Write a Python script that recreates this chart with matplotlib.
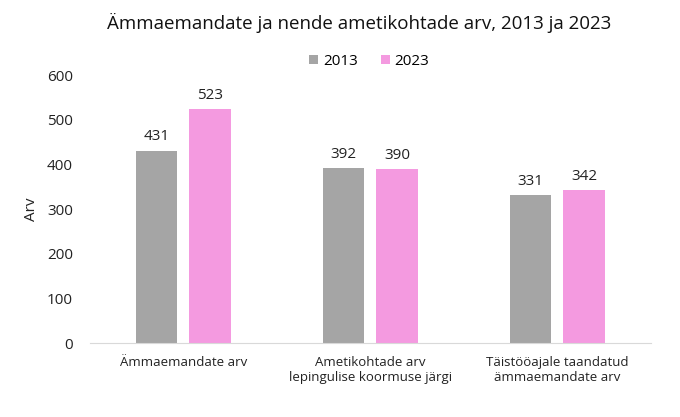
import matplotlib
matplotlib.use("Agg")
import matplotlib.pyplot as plt
import numpy as np

plt.rcParams['font.family'] = ['Open Sans', 'DejaVu Sans']

categories = ["Ämmaemandate arv", "Ametikohtade arv\nlepingulise koormuse järgi", "Täistööajale taandatud\nämmaemandate arv"]
years = ["2013", "2023"]
values_2013 = [431, 392, 331]
values_2023 = [523, 390, 342]
yticks = [0, 100, 200, 300, 400, 500, 600]

colors = ["#A5A5A5", "#F49AE0"]

fig = plt.figure(figsize=(6.8, 4.17), dpi=100)
ax = fig.add_axes([0.132, 0.177, 0.825, 0.643])

x = np.arange(len(categories))
w = 0.22
off = 0.143
b1 = ax.bar(x - off, values_2013, w, color=colors[0], label=years[0])
b2 = ax.bar(x + off, values_2023, w, color=colors[1], label=years[1])
for bars in (b1, b2):
    for r in bars:
        ax.text(r.get_x() + r.get_width() / 2, r.get_height() + 14, f"{int(r.get_height())}",
                ha="center", va="bottom", fontsize=11, color="#222222")

ax.set_xlim(-0.5, 2.5)
ax.set_ylim(0, 600)
ax.set_yticks(yticks)
ax.set_xticks(x)
ax.set_xticklabels(categories, fontsize=9.5, color="#222222", linespacing=1.2)
ax.tick_params(axis="y", labelsize=11, colors="#222222", length=0, pad=12)
ax.tick_params(axis="x", length=0, pad=9)
for s in ("top", "right", "left"):
    ax.spines[s].set_visible(False)
ax.spines["bottom"].set_color("#D9D9D9")
ax.set_ylabel("Arv", fontsize=11, color="#222222", labelpad=6)

fig.text(0.528, 0.945, "Ämmaemandate ja nende ametikohtade arv, 2013 ja 2023", ha="center", va="center",
         fontsize=13.5, color="#111111")
fig.legend(loc="center", bbox_to_anchor=(0.543, 0.853), ncol=2, frameon=False, fontsize=11,
           handlelength=0.6, handleheight=0.6, handletextpad=0.3, columnspacing=1.5)

fig.savefig("out.png", dpi=100)
